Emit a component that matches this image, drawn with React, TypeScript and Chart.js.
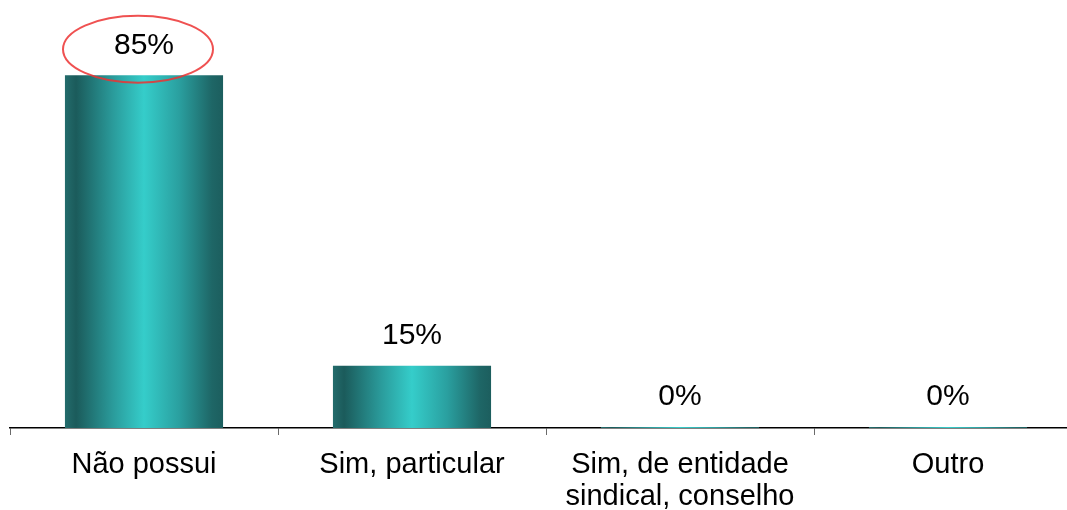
import React, { useEffect, useRef } from "react";
import { Chart, registerables } from "chart.js";

Chart.register(...registerables);

const categories: (string | string[])[] = [
  "Não possui",
  "Sim, particular",
  ["Sim, de entidade", "sindical, conselho"],
  "Outro",
];
const values: number[] = [85, 15, 0, 0];
const valueLabels: string[] = ["85%", "15%", "0%", "0%"];
const highlightedIndex = 0;

const FONT = "'Liberation Sans', Arial, Helvetica, sans-serif";
const BAR_PCT = 0.59;

const gradientStops: [number, string][] = [
  [0, "#236c6c"],
  [0.07, "#1b5b5b"],
  [0.3, "#2a9a9a"],
  [0.5, "#35cdca"],
  [0.72, "#2aa0a0"],
  [0.93, "#1e6666"],
  [1, "#1c5e5e"],
];

const labelsPlugin = {
  id: "valueLabels",
  afterDatasetsDraw(chart: any) {
    const ctx = chart.ctx;
    const meta = chart.getDatasetMeta(0);
    ctx.save();
    ctx.font = `30px ${FONT}`;
    ctx.fillStyle = "#000000";
    ctx.textAlign = "center";
    ctx.textBaseline = "middle";
    meta.data.forEach((bar: any, i: number) => {
      ctx.fillText(valueLabels[i], bar.x, bar.y - 30);
    });
    const hb: any = meta.data[highlightedIndex];
    if (hb) {
      ctx.beginPath();
      ctx.ellipse(hb.x - 6, hb.y - 26, 75, 33.5, 0, 0, Math.PI * 2);
      ctx.strokeStyle = "rgba(236, 50, 50, 0.85)";
      ctx.lineWidth = 2;
      ctx.stroke();
    }
    ctx.restore();
  },
};

export default function App() {
  const ref = useRef<HTMLCanvasElement | null>(null);
  useEffect(() => {
    document.body.style.margin = "0";
    document.body.style.overflow = "hidden";
    const canvas = ref.current;
    if (!canvas) return;
    const chart = new Chart(canvas, {
      type: "bar",
      data: {
        labels: categories,
        datasets: [
          {
            data: values,
            minBarLength: 1,
            barPercentage: BAR_PCT,
            categoryPercentage: 1,
            borderWidth: 0,
            backgroundColor: (c: any) => {
              const ch = c.chart;
              const xs = ch.scales ? ch.scales.x : undefined;
              if (!xs || c.dataIndex === undefined) return "#2aa5a5";
              const cx = xs.getPixelForValue(c.dataIndex);
              const half = ((xs.width / categories.length) * BAR_PCT) / 2;
              if (!Number.isFinite(cx) || !Number.isFinite(half) || half <= 0) return "#2aa5a5";
              const g = ch.ctx.createLinearGradient(cx - half, 0, cx + half, 0);
              gradientStops.forEach(([o, col]) => g.addColorStop(o, col));
              return g;
            },
          },
        ],
      },
      options: {
        animation: false,
        responsive: false,
        maintainAspectRatio: false,
        layout: { padding: { left: 10, right: 8, top: 13, bottom: 0 } },
        plugins: {
          legend: { display: false },
          tooltip: { enabled: false },
        },
        scales: {
          x: {
            offset: true,
            grid: {
              offset: true,
              drawOnChartArea: false,
              drawTicks: true,
              tickLength: 7,
              tickWidth: 1,
              tickColor: "#6a6a6a",
            },
            border: { display: true, color: "#000000", width: 1.5 },
            ticks: {
              color: "#000000",
              font: { family: FONT, size: 29, lineHeight: 1.1 },
              padding: 14,
              maxRotation: 0,
              autoSkip: false,
            },
            afterFit: (s: any) => {
              s.height = 82;
            },
          },
          y: {
            display: false,
            min: 0,
            max: 100,
          },
        },
      },
      plugins: [labelsPlugin],
    });
    chart.update();
    return () => chart.destroy();
  }, []);
  return (
    <div style={{ width: 1067, height: 510, overflow: "hidden", position: "relative" }}>
      <canvas ref={ref} width={1090} height={510} style={{ display: "block", width: 1090, height: 510 }} />
    </div>
  );
}
